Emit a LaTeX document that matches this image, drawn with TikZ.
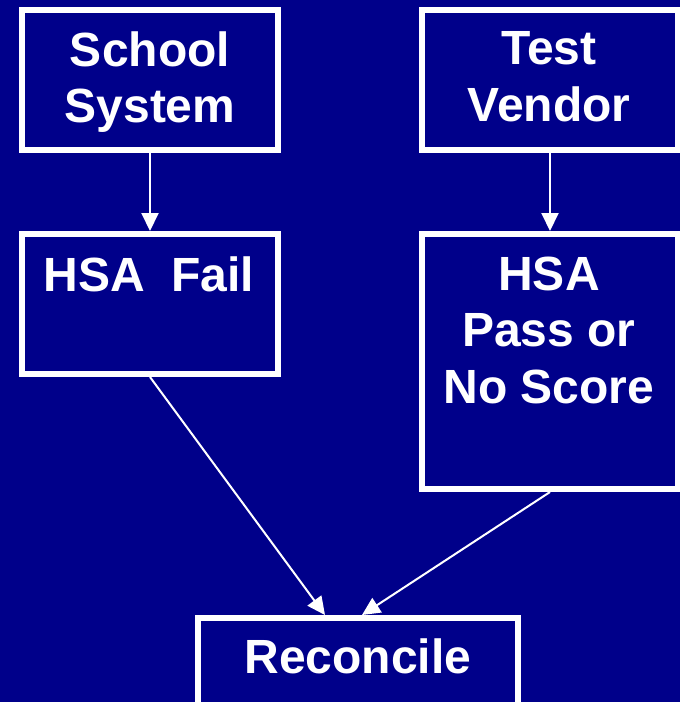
\documentclass[tikz,border=0pt]{standalone}
\usepackage{fontspec}
\setmainfont{Liberation Sans}
\usetikzlibrary{positioning, fit, arrows.meta}

\definecolor{mnavy}{RGB}{0,0,138}

\tikzset{
	box/.style={draw=white, line width=6pt, inner sep=0pt, fill=mnavy},
	boxtext/.style={anchor=north, inner sep=0pt, text=white, align=center,
		font=\fontsize{48}{56.5}\selectfont\bfseries},
	flow/.style={draw=white, line width=2pt, -{Triangle[length=18pt, width=17pt]}}
}

\begin{document}
\begin{tikzpicture}[x=1pt, y=-1pt]
		\fill[mnavy] (0,0) rectangle (680,702);
		\useasboundingbox (0,0) rectangle (680,702);

		% Top row
		\node[box, fit={(22,10) (278,150)}] (school) {};
		\node[box, fit={(422,10) (678,150)}] (vendor) {};

		% Middle row
		\node[box, fit={(22,234) (278,374)}] (fail) {};
		\node[box, fit={(422,234) (678,489)}] (pass) {};

		% Bottom
		\node[box, fit={(198,618) (518,706)}] (reconcile) {};

		% Texts
		\node[boxtext] (school-t) at (150,31.5) {School\\System};
		\node[boxtext] (vendor-t) at (549,31.5) {Test\\Vendor};
		\node[boxtext] (fail-t) at (149,256.5) {HSA~~Fail};
		\node[boxtext] (pass-t) at (549,256.5) {HSA\\Pass or\\No Score};
		\node[boxtext] (reconcile-t) at (358,639) {Reconcile};

		% Edges
		\draw[flow] (school) -- (fail);
		\draw[flow] (vendor) -- (pass);
		\draw[flow] (fail.south) -- (reconcile.north -| 325,0);
		\draw[flow] (pass.south) -- (reconcile.north -| 362,0);
	\end{tikzpicture}
\end{document}
